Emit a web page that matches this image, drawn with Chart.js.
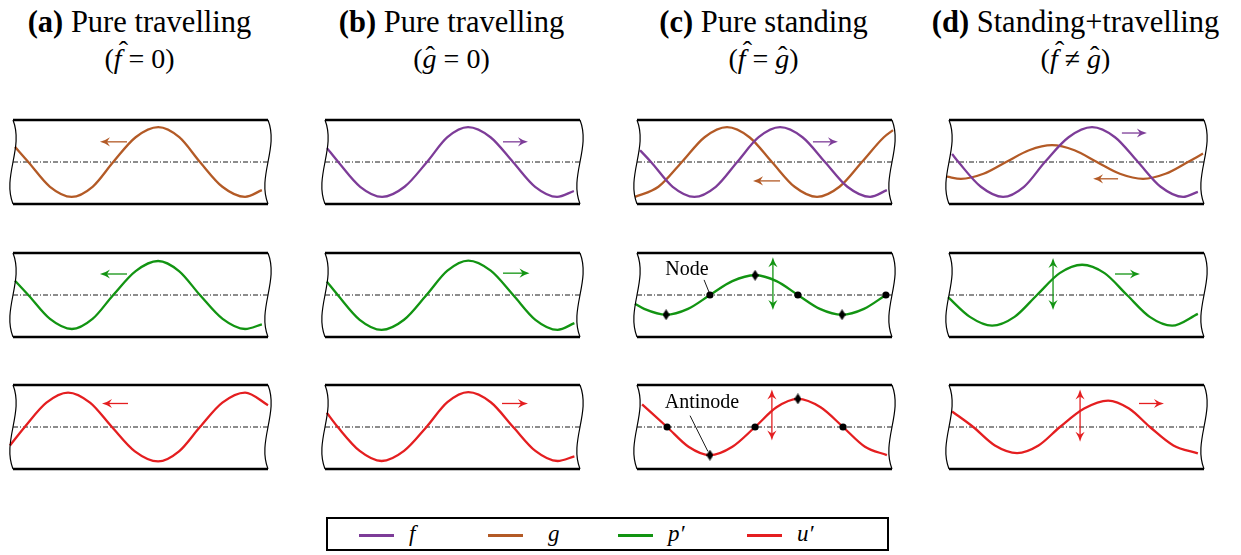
<!DOCTYPE html>
<html><head><meta charset="utf-8">
<script src="https://cdn.jsdelivr.net/npm/chart.js@4.4.0/dist/chart.umd.min.js"></script>
<style>
html,body{margin:0;padding:0;background:#fff;}
body{width:1241px;height:555px;position:relative;overflow:hidden;font-family:"Liberation Serif",serif;color:#000;}
canvas{position:absolute;}
.t1,.t2{position:absolute;width:420px;text-align:center;white-space:nowrap;}
.t1{top:7px;font-size:30.5px;line-height:30px;}
.t2{top:45px;font-size:28px;line-height:28px;}
.hat{position:relative;display:inline-block;font-style:italic;}
.hat::after{content:'\02C6';position:absolute;font-style:normal;left:0.18em;top:-0.3em;}
.hat.g::after{left:0.1em;top:-0.12em;}
#legend{position:absolute;left:326px;top:517px;width:563px;height:34px;border:2px solid #000;box-sizing:border-box;}
.li{position:absolute;top:15px;width:35px;height:2.5px;}
.lt{position:absolute;top:3px;font-size:23px;line-height:24px;font-style:italic;}
</style></head><body>
<script>
// ---------------- data ----------------
const columnTags   = ['(a)', '(b)', '(c)', '(d)'];
const columnTitles = ['Pure travelling', 'Pure travelling', 'Pure standing', 'Standing+travelling'];
const legendNames  = ['f', 'g', 'p′', 'u′'];

// axial position along duct (0..100), amplitude (duct wall = ±1)
const a_g = [[0.8,0.36],[6,0],[14.5,-0.59],[23,-0.83],[31.2,-0.59],[39.3,0],[48.1,0.59],[57,0.83],[65.2,0.59],[73.3,0],[82.1,-0.59],[91,-0.83],[97.6,-0.67]];
const a_p = [[0.8,0.34],[6,0],[14.5,-0.57],[23.1,-0.81],[31.2,-0.57],[39.3,0],[48.1,0.57],[56.9,0.81],[65.1,0.57],[73.3,0],[82.2,-0.57],[91,-0.81],[97.6,-0.7]];
const a_u = [[-1.2,-0.44],[4.6,0],[13.1,0.58],[21.6,0.82],[30.2,0.58],[38.8,0],[47.8,-0.58],[56.9,-0.82],[65.1,-0.58],[73.3,0],[82.1,0.58],[91,0.82],[100,0.52]];

const b_f = [[0.8,0.33],[5.2,0],[13.8,-0.59],[22.4,-0.83],[31.2,-0.59],[40,0],[48,0.59],[56.1,0.83],[64.9,0.59],[73.7,0],[82.4,-0.59],[91,-0.83],[97.6,-0.69]];
const b_p = [[0.7,0.32],[5,0],[13.6,-0.59],[22.2,-0.83],[31,-0.59],[39.8,0],[48,0.58],[56.2,0.82],[65,0.58],[73.8,0],[82.5,-0.59],[91.2,-0.83],[97.8,-0.67]];
const b_u = [[0.7,0.34],[5,0],[13.6,-0.57],[22.2,-0.81],[31,-0.57],[39.8,0],[48,0.59],[56.2,0.83],[65,0.59],[73.8,0],[82.5,-0.57],[91.2,-0.81],[97.8,-0.7]];

const c_f = [[1.2,0.28],[5.5,0],[14,-0.59],[22.5,-0.83],[30.9,-0.59],[39.3,0],[47.7,0.59],[56.1,0.83],[64.9,0.59],[73.7,0],[82.5,-0.59],[91.4,-0.83],[98,-0.67]];
const c_g = [[-0.8,-0.83],[8.4,-0.59],[17.6,0],[26.5,0.59],[35.3,0.83],[44.1,0.59],[52.9,0],[61.8,-0.59],[70.6,-0.83],[79.4,-0.59],[88.2,0],[96.8,0.59],[100.4,0.76]];
const c_p = [[-0.8,-0.21],[2.8,-0.33],[11.4,-0.47],[20,-0.33],[28.6,0],[37.4,0.33],[46.3,0.47],[54.7,0.33],[63.1,0],[71.7,-0.33],[80.4,-0.47],[89,-0.33],[97.6,0]];
const c_u = [[2,0.54],[11.8,0],[20.2,-0.47],[28.6,-0.67],[37.4,-0.47],[46.3,0],[54.7,0.47],[63.1,0.67],[72,0.47],[80.8,0],[89.4,-0.47],[98,-0.67]];

const d_f = [[1.2,0.19],[3.7,0],[12.5,-0.59],[21.2,-0.83],[29.4,-0.59],[37.6,0],[46.9,0.59],[56.1,0.83],[65.1,0.59],[74.1,0],[83,-0.59],[91.8,-0.83],[97.6,-0.71]];
const d_g = [[-0.8,-0.35],[4.7,-0.4],[13.5,-0.28],[22.4,0],[31.4,0.28],[40.4,0.4],[49.2,0.28],[58,0],[67,-0.28],[76.1,-0.4],[84.9,-0.28],[93.7,0],[99.6,0.2]];
const d_p = [[-0.4,-0.05],[8.2,-0.52],[16.9,-0.73],[25.7,-0.52],[34.5,0],[43.4,0.52],[52.2,0.72],[61,0.52],[69.8,0],[78.7,-0.52],[87.5,-0.73],[97.6,-0.45]];
const d_u = [[1.2,0.37],[9.5,0],[18,-0.44],[26.7,-0.62],[35.1,-0.44],[43.5,0],[53,0.44],[62.4,0.63],[70.6,0.44],[78.8,0],[88,-0.44],[97.6,-0.63]];

// standing-wave marks in panel (c)
const c_pNodes      = [[28.6,0],[63.1,0],[97.6,0]];
const c_pAntinodes  = [[11.4,-0.47],[46.3,0.47],[80.4,-0.47]];
const c_uNodes      = [[11.8,0],[46.3,0],[80.8,0]];
const c_uAntinodes  = [[28.6,-0.67],[63.1,0.67]];

// propagation arrows: [x start, x end, level]
const a_gArrow = [44.7, 34.1, 0.48];
const a_pArrow = [44.7, 34.1, 0.5];
const a_uArrow = [45.1, 34.9, 0.56];
const b_fArrow = [69.8, 79.6, 0.48];
const b_pArrow = [69.8, 80.2, 0.52];
const b_uArrow = [69.4, 79.6, 0.56];
const c_fArrow = [69, 78.8, 0.48];
const c_gArrow = [56.1, 45.5, -0.45];
const d_fArrow = [67.8, 77.6, 0.69];
const d_gArrow = [66.3, 56.5, -0.4];
const d_pArrow = [65.1, 74.9, 0.5];
const d_uArrow = [74.5, 84.3, 0.56];
// oscillation (double) arrows: [x, top level, bottom level]
const c_pOsc = [53.3, 0.9, -0.36];
const c_uOsc = [52.9, 0.89, -0.32];
const d_pOsc = [40.8, 0.88, -0.36];
const d_uOsc = [51.4, 0.89, -0.35];
// annotation labels: [text, x, y, leader x0, y0, x1, y1]
const nodeLabel     = ['Node', 19.6, 0.6, 26.3, 0.36, 28.3, 0.06];
const antinodeLabel = ['Antinode', 25.5, 0.58, 20.8, 0.27, 27.8, -0.58];

// ---------------- styling / layout ----------------
const FONT = '"Liberation Serif",serif';
const COLORS = { f: '#7D3C98', g: '#B35A26', p: '#129412', u: '#E41E20' };
const DUCT_W = 255, DUCT_H = 84, PAD = 12;
const colLeft = [13, 325, 637, 949];
const rowTop  = [120, 253, 385];

function diamondImg() {
  const c = document.createElement('canvas'); c.width = 7; c.height = 11;
  const x = c.getContext('2d'); x.fillStyle = '#000';
  x.beginPath(); x.moveTo(3.5,0); x.lineTo(7,5.5); x.lineTo(3.5,11); x.lineTo(0,5.5); x.closePath(); x.fill();
  return c;
}
const DIAMOND = diamondImg();

function head(ctx, x, y, ang, color) {
  ctx.save(); ctx.translate(x, y); ctx.rotate(ang); ctx.fillStyle = color;
  ctx.beginPath(); ctx.moveTo(0, 0);
  ctx.quadraticCurveTo(-5, -1.2, -10, -4.6);
  ctx.lineTo(-7, 0);
  ctx.lineTo(-10, 4.6);
  ctx.quadraticCurveTo(-5, 1.2, 0, 0);
  ctx.closePath(); ctx.fill(); ctx.restore();
}

const ductPlugin = {
  id: 'duct',
  beforeDatasetsDraw(chart) {
    const { ctx, chartArea: { left, right } } = chart;
    const y0 = chart.scales.y.getPixelForValue(0);
    ctx.save(); ctx.strokeStyle = '#000'; ctx.lineWidth = 0.9; ctx.setLineDash([5, 2, 1, 2]);
    ctx.beginPath(); ctx.moveTo(left, y0); ctx.lineTo(right, y0); ctx.stroke(); ctx.restore();
  },
  afterDatasetsDraw(chart, args, opts) {
    const { ctx, chartArea: { left, right, top, bottom } } = chart;
    const X = v => chart.scales.x.getPixelForValue(v), Y = v => chart.scales.y.getPixelForValue(v);
    ctx.save();
    ctx.strokeStyle = '#000'; ctx.lineWidth = 2.5; ctx.lineCap = 'butt';
    ctx.beginPath(); ctx.moveTo(left, top); ctx.lineTo(right, top); ctx.stroke();
    ctx.beginPath(); ctx.moveTo(left, bottom); ctx.lineTo(right, bottom); ctx.stroke();
    ctx.lineWidth = 1.2;
    [left, right].forEach(x0 => {
      const h = bottom - top;
      ctx.beginPath(); ctx.moveTo(x0, top);
      ctx.bezierCurveTo(x0 + 11, top + h / 3, x0 - 11, top + 2 * h / 3, x0, bottom);
      ctx.stroke();
    });
    (opts.arrows || []).forEach(([key, a]) => {
      const c = COLORS[key]; const x1 = X(a[0]), x2 = X(a[1]), y = Y(a[2]);
      const dir = Math.sign(x2 - x1);
      ctx.strokeStyle = c; ctx.lineWidth = 1.3;
      ctx.beginPath(); ctx.moveTo(x1, y); ctx.lineTo(x2 - dir * 6, y); ctx.stroke();
      head(ctx, x2, y, dir > 0 ? 0 : Math.PI, c);
    });
    (opts.osc || []).forEach(([key, a]) => {
      const c = COLORS[key]; const x = X(a[0]), y1 = Y(a[1]), y2 = Y(a[2]);
      ctx.strokeStyle = c; ctx.lineWidth = 1.3;
      ctx.beginPath(); ctx.moveTo(x, y1 + 6); ctx.lineTo(x, y2 - 6); ctx.stroke();
      head(ctx, x, y1, -Math.PI / 2, c);
      head(ctx, x, y2, Math.PI / 2, c);
    });
    (opts.labels || []).forEach(l => {
      ctx.strokeStyle = '#000'; ctx.lineWidth = 0.9;
      ctx.beginPath(); ctx.moveTo(X(l[3]), Y(l[4])); ctx.lineTo(X(l[5]), Y(l[6])); ctx.stroke();
      ctx.fillStyle = '#000'; ctx.font = '20px ' + FONT;
      ctx.textAlign = 'center'; ctx.textBaseline = 'middle';
      ctx.fillText(l[0], X(l[1]), Y(l[2]));
    });
    ctx.restore();
  }
};

const toXY = arr => arr.map(([x, y]) => ({ x, y }));
function lineDs(key, arr) {
  return { data: toXY(arr), borderColor: COLORS[key], borderWidth: 2.3, cubicInterpolationMode: 'monotone',
           pointRadius: 0, fill: false, clip: false };
}
function markDs(arr, style) {
  return { data: toXY(arr), showLine: false, pointStyle: style, pointRadius: style === 'circle' ? 3.6 : 5,
           pointBackgroundColor: '#000', pointBorderColor: '#000', pointBorderWidth: 0, clip: false };
}

const panels = [
  { col: 0, row: 0, lines: [['g', a_g]], arrows: [['g', a_gArrow]] },
  { col: 0, row: 1, lines: [['p', a_p]], arrows: [['p', a_pArrow]] },
  { col: 0, row: 2, lines: [['u', a_u]], arrows: [['u', a_uArrow]] },
  { col: 1, row: 0, lines: [['f', b_f]], arrows: [['f', b_fArrow]] },
  { col: 1, row: 1, lines: [['p', b_p]], arrows: [['p', b_pArrow]] },
  { col: 1, row: 2, lines: [['u', b_u]], arrows: [['u', b_uArrow]] },
  { col: 2, row: 0, lines: [['f', c_f], ['g', c_g]], arrows: [['f', c_fArrow], ['g', c_gArrow]] },
  { col: 2, row: 1, lines: [['p', c_p]], marks: [[c_pNodes, 'circle'], [c_pAntinodes, DIAMOND]], osc: [['p', c_pOsc]], labels: [nodeLabel] },
  { col: 2, row: 2, lines: [['u', c_u]], marks: [[c_uNodes, 'circle'], [c_uAntinodes, DIAMOND]], osc: [['u', c_uOsc]], labels: [antinodeLabel] },
  { col: 3, row: 0, lines: [['f', d_f], ['g', d_g]], arrows: [['f', d_fArrow], ['g', d_gArrow]] },
  { col: 3, row: 1, lines: [['p', d_p]], arrows: [['p', d_pArrow]], osc: [['p', d_pOsc]] },
  { col: 3, row: 2, lines: [['u', d_u]], arrows: [['u', d_uArrow]], osc: [['u', d_uOsc]] },
];

panels.forEach(p => {
  const c = document.createElement('canvas');
  const W = DUCT_W + 2 * PAD, H = DUCT_H + 2 * PAD;
  c.width = W; c.height = H;
  c.style.left = (colLeft[p.col] - PAD) + 'px'; c.style.top = (rowTop[p.row] - PAD) + 'px';
  c.style.width = W + 'px'; c.style.height = H + 'px';
  document.body.appendChild(c);
  const datasets = [];
  (p.marks || []).forEach(([arr, st]) => datasets.push(markDs(arr, st)));
  p.lines.forEach(([k, arr]) => datasets.push(lineDs(k, arr)));
  new Chart(c, {
    type: 'line',
    data: { datasets },
    options: {
      responsive: false, animation: false, devicePixelRatio: 1,
      layout: { padding: PAD },
      scales: { x: { type: 'linear', min: 0, max: 100, display: false },
                y: { type: 'linear', min: -1, max: 1, display: false } },
      plugins: { legend: { display: false }, tooltip: { enabled: false },
                 duct: { arrows: p.arrows, osc: p.osc, labels: p.labels } },
      events: []
    },
    plugins: [ductPlugin]
  });
});

const subtitles = [
  '(<span class="hat">f</span> = 0)',
  '(<span class="hat g">g</span> = 0)',
  '(<span class="hat">f</span> = <span class="hat g">g</span>)',
  '(<span class="hat">f</span> ≠ <span class="hat g">g</span>)'
];
columnTags.forEach((tag, i) => {
  const cx = colLeft[i] + DUCT_W / 2 - 1;
  const t1 = document.createElement('div'); t1.className = 't1';
  t1.style.left = (cx - 210) + 'px';
  t1.innerHTML = '<b>' + tag + '</b> ' + columnTitles[i];
  document.body.appendChild(t1);
  const t2 = document.createElement('div'); t2.className = 't2';
  t2.style.left = (cx - 210) + 'px';
  t2.innerHTML = subtitles[i];
  document.body.appendChild(t2);
});

const legendKeys = ['f', 'g', 'p', 'u'];
const legendLineX = [31, 160, 290, 419];
const legendTextX = [81, 220, 340, 469];
const lg = document.createElement('div'); lg.id = 'legend'; document.body.appendChild(lg);
legendKeys.forEach((k, i) => {
  const ln = document.createElement('div'); ln.className = 'li';
  ln.style.left = legendLineX[i] + 'px'; ln.style.background = COLORS[k];
  lg.appendChild(ln);
  const tx = document.createElement('div'); tx.className = 'lt';
  tx.style.left = legendTextX[i] + 'px'; tx.textContent = legendNames[i];
  lg.appendChild(tx);
});
</script>
</body></html>
